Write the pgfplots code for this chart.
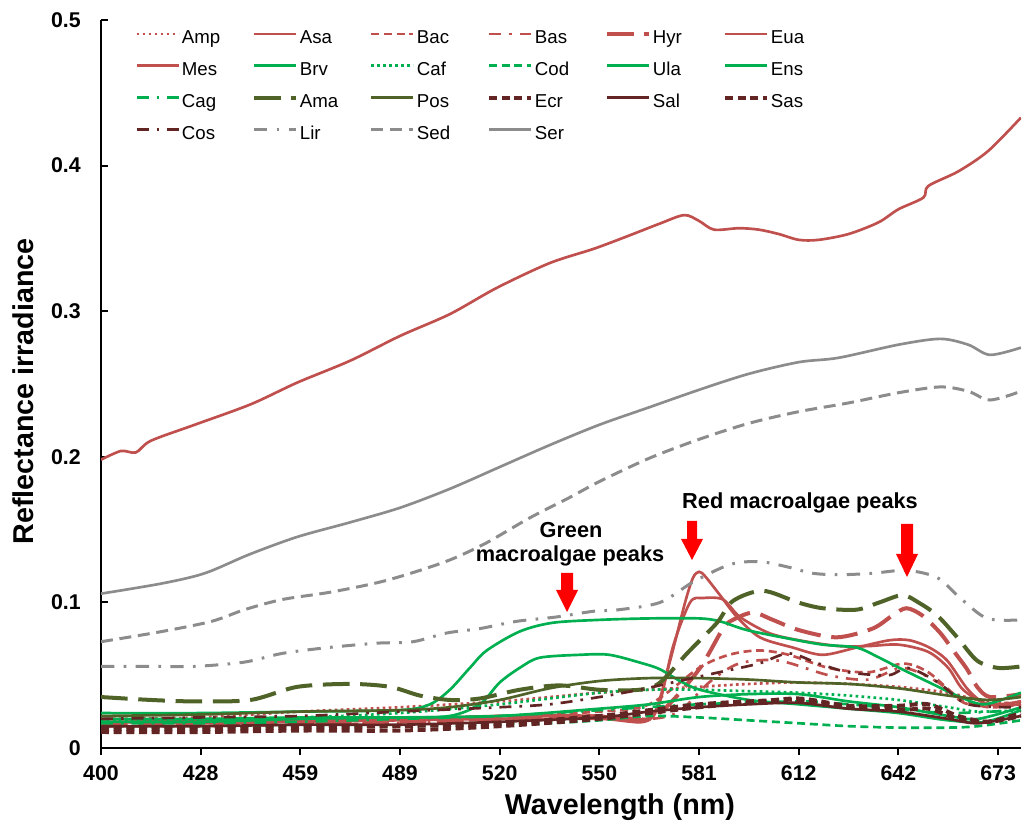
\documentclass[border=0pt]{standalone}
\usepackage{fontspec}
\setmainfont{Liberation Sans}
\usepackage{pgfplots}
\pgfplotsset{compat=1.18}
\definecolor{cR}{HTML}{C0504D}
\definecolor{cG}{HTML}{00B050}
\definecolor{cO}{HTML}{4F6228}
\definecolor{cD}{HTML}{632523}
\definecolor{cY}{HTML}{8C8C8C}
\newcommand{\lgd}[1]{\makebox[45pt][l]{\hspace{1.5pt}#1}}
\tikzset{
  sdot/.style={line width=2pt, dash pattern=on 2pt off 2.5pt},
  sdash/.style={line width=2pt, dash pattern=on 6pt off 3.5pt},
  sdashdot/.style={line width=2pt, dash pattern=on 9pt off 6pt on 2pt off 6pt},
  slong/.style={line width=3pt, dash pattern=on 20pt off 8pt},
  ssolid/.style={line width=2pt},
}
\begin{document}
\begin{tikzpicture}
\path[use as bounding box] (0,0) rectangle (767.25pt,621pt);
\begin{axis}[
  at={(75.75pt,60pt)}, anchor=south west,
  scale only axis, width=690pt, height=546pt,
  xmin=0, xmax=9.23, ymin=0, ymax=0.5,
  axis x line*=bottom, axis y line*=left,
  axis line style={line width=1.5pt, -},
  xtick={0,1,2,3,4,5,6,7,8,9},
  xticklabels={400,428,459,489,520,550,581,612,642,673},
  ytick={0,0.1,0.2,0.3,0.4,0.5},
  yticklabels={0,0.1,0.2,0.3,0.4,0.5},
  /pgf/number format/assume math mode=true,
  tick align=inside,
  major tick length=5pt,
  tick style={line width=1.5pt, black},
  xtick style={yshift=-5pt},
  ticklabel style={font=\fontsize{16}{19}\selectfont\bfseries},
  yticklabel style={anchor=east, inner sep=0pt, xshift=-15pt},
  xticklabel style={anchor=center, inner sep=0pt, yshift=-19pt},
  xlabel={Wavelength (nm)},
  ylabel={Reflectance irradiance},
  xlabel style={at={(axis description cs:0.564,0)}, anchor=center, yshift=-44pt, font=\fontsize{21.5}{25}\selectfont\bfseries},
  ylabel style={at={(axis description cs:-0.0848,0.49)}, anchor=center, font=\fontsize{21.5}{25}\selectfont\bfseries},
  legend columns=6,
  legend cell align=left,
  legend style={at={(axis description cs:0,1)}, anchor=north west, xshift=25.5pt, yshift=-7.75pt,
    draw=none, fill=none, inner sep=0pt, row sep=10.8pt,
    font=\fontsize{14}{16}\selectfont,
    nodes={inner sep=0pt, text height=10pt, text depth=3pt},
    /tikz/every even column/.append style={column sep=9pt}},
  legend image code/.code={\draw[#1] (0pt,3.9pt) -- (31.5pt,3.9pt);},
  every axis plot/.append style={smooth},
]
% Amp
\addplot[cR, sdot] coordinates {(0,0.02) (1,0.021) (2,0.025) (3,0.028) (4,0.032) (4.5,0.035) (5,0.038) (5.5,0.04) (6,0.042) (6.5,0.044) (7,0.045) (7.5,0.044) (8,0.042) (8.5,0.038) (8.8,0.033) (9.23,0.03)};
\addlegendentry{\lgd{Amp}}
% Asa
\addplot[cR, ssolid] coordinates {(0,0.02) (1,0.019) (2,0.019) (3,0.02) (4,0.022) (5,0.022) (5.4,0.018) (5.56,0.025) (5.71,0.06) (5.86,0.1) (5.94,0.117) (6.0,0.121) (6.06,0.118) (6.21,0.105) (6.38,0.09) (6.61,0.076) (6.94,0.069) (7.24,0.064) (7.58,0.069) (7.91,0.074) (8.11,0.074) (8.31,0.069) (8.49,0.06) (8.7,0.04) (8.9,0.03) (9.23,0.032)};
\addlegendentry{\lgd{Asa}}
% Bac
\addplot[cR, sdash] coordinates {(0,0.018) (1,0.018) (2,0.02) (3,0.02) (4,0.022) (5,0.025) (5.5,0.03) (6.0,0.055) (6.3,0.064) (6.6,0.067) (6.9,0.064) (7.3,0.055) (7.7,0.052) (8.05,0.058) (8.3,0.052) (8.6,0.035) (8.9,0.028) (9.23,0.03)};
\addlegendentry{\lgd{Bac}}
% Bas
\addplot[cR, sdashdot] coordinates {(0,0.015) (1,0.015) (2,0.016) (3,0.017) (4,0.02) (5,0.022) (5.5,0.02) (5.8,0.025) (6.1,0.045) (6.4,0.058) (6.8,0.06) (7.3,0.05) (7.7,0.047) (8.05,0.055) (8.4,0.045) (8.7,0.03) (9.23,0.032)};
\addlegendentry{\lgd{Bas}}
% Hyr
\addplot[cR, slong] coordinates {(0,0.016) (1,0.016) (2,0.017) (3,0.018) (4,0.02) (4.8,0.022) (5.3,0.02) (5.5,0.02) (5.7,0.03) (6.01,0.055) (6.24,0.082) (6.34,0.088) (6.54,0.093) (6.74,0.088) (7.0,0.081) (7.38,0.076) (7.74,0.082) (7.94,0.091) (8.08,0.096) (8.24,0.091) (8.42,0.079) (8.55,0.067) (8.69,0.054) (8.79,0.042) (8.92,0.035) (9.23,0.037)};
\addlegendentry{\lgd{Hyr}}
% Eua
\addplot[cR, ssolid] coordinates {(0,0.198) (0.2,0.204) (0.35,0.203) (0.5,0.211) (0.94,0.222) (1.5,0.236) (1.97,0.251) (2.5,0.266) (3.0,0.283) (3.5,0.298) (3.97,0.316) (4.5,0.333) (4.95,0.343) (5.3,0.352) (5.6,0.36) (5.85,0.366) (6.0,0.362) (6.15,0.356) (6.4,0.357) (6.6,0.356) (6.8,0.353) (7.0,0.349) (7.2,0.349) (7.5,0.353) (7.8,0.361) (8.0,0.37) (8.25,0.378) (8.3,0.386) (8.6,0.396) (8.9,0.41) (9.23,0.433)};
\addlegendentry{\lgd{Eua}}
% Mes
\addplot[cR, ssolid] coordinates {(0,0.018) (1,0.017) (2,0.018) (3,0.019) (4,0.02) (5,0.02) (5.45,0.018) (5.6,0.03) (5.74,0.07) (5.91,0.1) (6.04,0.103) (6.24,0.102) (6.41,0.09) (6.7,0.079) (7.0,0.074) (7.4,0.07) (7.7,0.07) (8.0,0.071) (8.3,0.066) (8.5,0.055) (8.65,0.04) (8.9,0.03) (9.23,0.03)};
\addlegendentry{\lgd{Mes}}
% Brv
\addplot[cG, ssolid] coordinates {(0,0.018) (1,0.018) (2,0.02) (3,0.021) (4,0.022) (5,0.027) (5.5,0.03) (6,0.035) (6.5,0.037) (7,0.037) (7.5,0.032) (8,0.028) (8.5,0.022) (8.8,0.02) (9.23,0.028)};
\addlegendentry{\lgd{Brv}}
% Caf
\addplot[cG, sdot] coordinates {(0,0.019) (1,0.019) (2,0.021) (3,0.024) (4,0.03) (5,0.038) (5.5,0.04) (6,0.04) (6.5,0.039) (7,0.038) (7.5,0.036) (8,0.033) (8.5,0.028) (8.8,0.025) (9.23,0.026)};
\addlegendentry{\lgd{Caf}}
% Cod
\addplot[cG, sdash] coordinates {(0,0.014) (1,0.014) (2,0.015) (3,0.015) (4,0.016) (4.5,0.017) (5,0.019) (5.5,0.022) (6,0.021) (6.5,0.019) (7,0.017) (7.5,0.015) (8,0.014) (8.5,0.014) (8.8,0.015) (9.23,0.019)};
\addlegendentry{\lgd{Cod}}
% Ula
\addplot[cG, ssolid] coordinates {(0,0.024) (1,0.024) (2,0.025) (3,0.026) (3.3,0.03) (3.5,0.04) (3.7,0.055) (3.87,0.067) (4.2,0.08) (4.53,0.086) (5.0,0.088) (5.5,0.089) (6.0,0.089) (6.21,0.087) (6.48,0.081) (6.91,0.075) (7.24,0.071) (7.58,0.069) (7.78,0.063) (8.01,0.055) (8.31,0.045) (8.62,0.035) (8.87,0.03) (9.23,0.038)};
\addlegendentry{\lgd{Ula}}
% Ens
\addplot[cG, ssolid] coordinates {(0,0.02) (1,0.02) (2,0.021) (3,0.021) (3.5,0.022) (3.8,0.03) (4.0,0.045) (4.2,0.055) (4.4,0.062) (4.8,0.064) (5.1,0.064) (5.44,0.058) (5.61,0.054) (5.81,0.046) (6.01,0.04) (6.5,0.033) (7.0,0.03) (7.5,0.027) (8.0,0.024) (8.5,0.019) (8.87,0.018) (9.23,0.026)};
\addlegendentry{\lgd{Ens}}
% Cag
\addplot[cG, sdashdot] coordinates {(0,0.017) (1,0.017) (2,0.018) (3,0.02) (4,0.022) (5,0.026) (6,0.03) (7,0.032) (7.5,0.03) (8,0.027) (8.5,0.024) (9.23,0.026)};
\addlegendentry{\lgd{Cag}}
% Ama
\addplot[cO, slong] coordinates {(0,0.035) (0.5,0.033) (0.94,0.032) (1.5,0.033) (1.97,0.042) (2.5,0.044) (2.9,0.042) (3.2,0.036) (3.5,0.033) (3.8,0.034) (4.2,0.04) (4.6,0.043) (5.0,0.04) (5.4,0.04) (5.61,0.045) (5.88,0.065) (6.18,0.086) (6.34,0.101) (6.64,0.108) (6.99,0.1) (7.24,0.096) (7.58,0.095) (7.81,0.1) (8.04,0.105) (8.2,0.1) (8.39,0.091) (8.59,0.076) (8.79,0.06) (9.0,0.055) (9.23,0.056)};
\addlegendentry{\lgd{Ama}}
% Pos
\addplot[cO, ssolid] coordinates {(0,0.022) (1,0.023) (2,0.025) (3,0.026) (3.5,0.028) (4,0.033) (4.5,0.041) (5,0.046) (5.5,0.048) (6,0.048) (6.5,0.047) (7,0.045) (7.5,0.044) (8,0.041) (8.5,0.036) (8.9,0.033) (9.23,0.035)};
\addlegendentry{\lgd{Pos}}
% Ecr
\addplot[cD, sdash, line width=3pt] coordinates {(0,0.013) (1,0.013) (2,0.014) (3,0.015) (4,0.017) (5,0.022) (5.5,0.026) (6,0.03) (6.5,0.032) (7,0.033) (7.5,0.028) (8,0.026) (8.3,0.027) (8.6,0.02) (8.9,0.018) (9.23,0.024)};
\addlegendentry{\lgd{Ecr}}
% Sal
\addplot[cD, ssolid] coordinates {(0,0.015) (1,0.015) (2,0.016) (3,0.016) (4,0.018) (5,0.021) (5.5,0.025) (6,0.028) (6.5,0.03) (7,0.031) (7.5,0.027) (8,0.025) (8.5,0.02) (8.8,0.017) (9.23,0.022)};
\addlegendentry{\lgd{Sal}}
% Sas
\addplot[cD, sdash, line width=3pt] coordinates {(0,0.011) (1,0.011) (2,0.012) (3,0.012) (4,0.015) (5,0.02) (5.5,0.024) (6,0.028) (6.5,0.031) (7,0.034) (7.5,0.029) (8,0.029) (8.3,0.03) (8.6,0.022) (8.9,0.018) (9.23,0.022)};
\addlegendentry{\lgd{Sas}}
% Cos
\addplot[cD, sdashdot] coordinates {(0,0.02) (1,0.021) (2,0.022) (3,0.025) (4,0.028) (4.5,0.03) (5,0.035) (5.4,0.04) (5.8,0.046) (6.2,0.052) (6.6,0.058) (6.9,0.065) (7.2,0.058) (7.5,0.052) (7.9,0.05) (8.1,0.055) (8.4,0.045) (8.7,0.03) (9.23,0.028)};
\addlegendentry{\lgd{Cos}}
% Lir
\addplot[cY, sdashdot, line width=2.25pt, dash pattern=on 10pt off 7pt on 2pt off 7pt] coordinates {(0,0.056) (0.61,0.056) (0.94,0.056) (1.44,0.059) (1.82,0.065) (2.28,0.069) (2.77,0.072) (3.13,0.073) (3.47,0.079) (3.8,0.082) (4.17,0.087) (4.57,0.09) (4.95,0.094) (5.2,0.095) (5.61,0.1) (5.94,0.114) (6.31,0.126) (6.61,0.128) (6.91,0.124) (7.14,0.12) (7.41,0.119) (7.74,0.12) (8.08,0.122) (8.39,0.117) (8.62,0.103) (8.89,0.089) (9.23,0.088)};
\addlegendentry{\lgd{Lir}}
% Sed
\addplot[cY, line width=2.25pt, dash pattern=on 9pt off 5pt] coordinates {(0,0.073) (0.61,0.08) (1.11,0.087) (1.44,0.095) (1.82,0.102) (2.3,0.107) (2.8,0.114) (3.2,0.122) (3.53,0.13) (3.87,0.141) (4.3,0.158) (4.7,0.172) (5.0,0.183) (5.5,0.199) (6.0,0.212) (6.5,0.223) (7.0,0.231) (7.5,0.237) (8.0,0.244) (8.42,0.248) (8.7,0.245) (8.92,0.239) (9.23,0.245)};
\addlegendentry{\lgd{Sed}}
% Ser
\addplot[cY, ssolid] coordinates {(0,0.106) (0.61,0.113) (1.04,0.12) (1.49,0.133) (1.97,0.145) (2.5,0.155) (3.0,0.165) (3.5,0.178) (4.0,0.193) (4.5,0.208) (5.0,0.222) (5.5,0.234) (6.0,0.246) (6.5,0.257) (7.0,0.265) (7.4,0.268) (8.0,0.277) (8.42,0.281) (8.7,0.277) (8.92,0.27) (9.23,0.275)};
\addlegendentry{\lgd{Ser}}
\end{axis}
\begin{scope}[x=0.75pt, y=-0.75pt, shift={(0pt,621pt)}]
  \fill[red] (561,573) -- (573,573) -- (573,590) -- (578,590) -- (567,612) -- (556,590) -- (561,590) -- cycle;
  \fill[red] (687,521) -- (697,521) -- (697,539) -- (703,539) -- (692,560) -- (681,539) -- (687,539) -- cycle;
  \fill[red] (901,524) -- (913,524) -- (913,554) -- (918,554) -- (907,577) -- (896,554) -- (901,554) -- cycle;
  \node[font=\fontsize{16.3}{19}\selectfont\bfseries] at (800,503) {Red macroalgae peaks};
  \node[font=\fontsize{16.3}{19}\selectfont\bfseries] at (571,530) {Green};
  \node[font=\fontsize{16.3}{19}\selectfont\bfseries] at (570,556) {macroalgae peaks};
\end{scope}
\end{tikzpicture}
\end{document}
